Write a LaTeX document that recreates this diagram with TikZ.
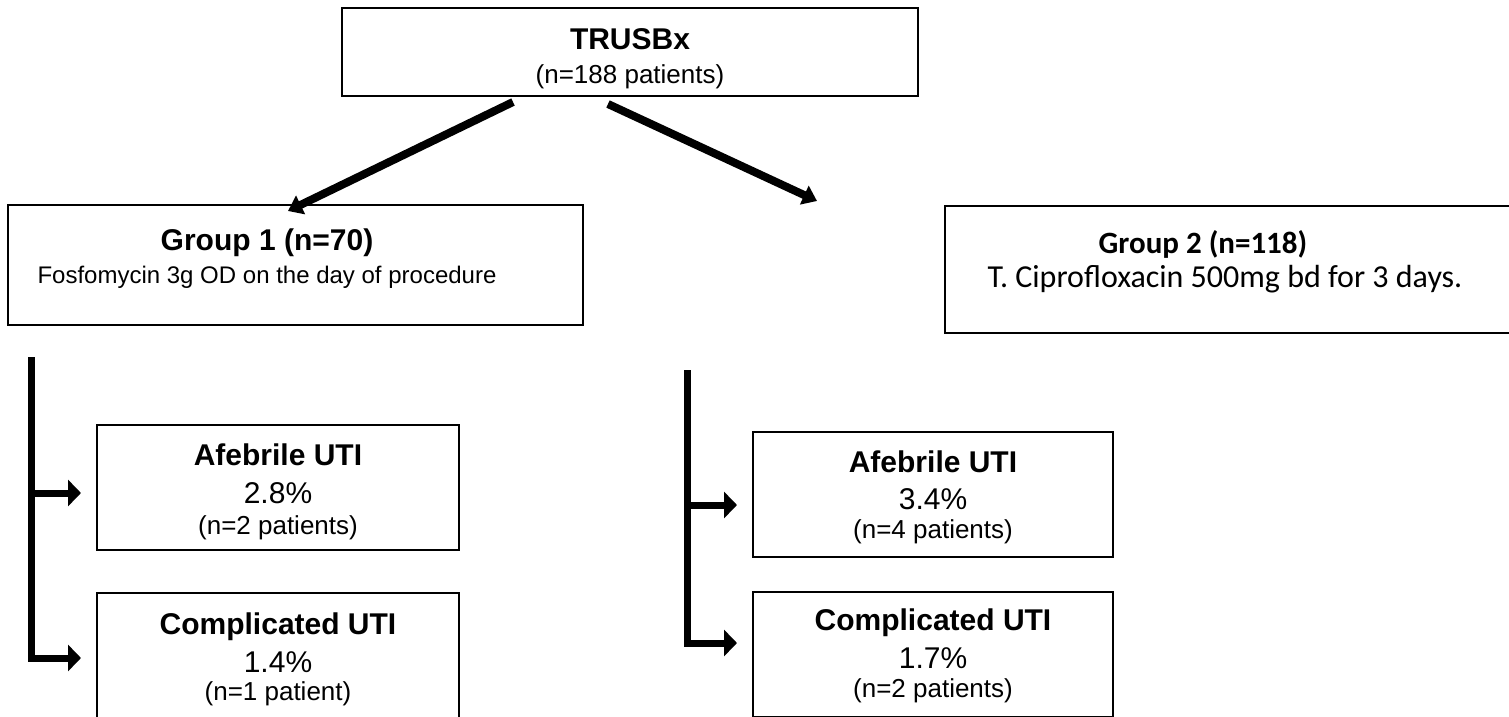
\documentclass[tikz,border=0pt]{standalone}
\usepackage{fontspec}
\setmainfont{Liberation Sans}
\newfontfamily\calfont{Carlito}
\usetikzlibrary{arrows.meta,calc}
\begin{document}
\begin{tikzpicture}[x=1pt,y=-1pt,
  box/.style={draw,line width=2pt,inner sep=0pt},
  ttl/.style={font=\bfseries\fontsize{30}{34}\selectfont,inner sep=0pt,anchor=base},
  sub/.style={font=\fontsize{26}{30}\selectfont,inner sep=0pt,anchor=base},
  pct/.style={font=\fontsize{30}{34}\selectfont,inner sep=0pt,anchor=base},
  diag/.style={line width=8pt,-{Triangle[length=14pt,width=20pt]}},
  brk/.style={line width=7pt,-{Triangle[length=13pt,width=26pt]}}]
\useasboundingbox[fill=white] (0,0) rectangle (1509,717);
% boxes
\node[box,minimum width=576pt,minimum height=88pt] (trus) at (630,52) {};
\node[box,minimum width=575pt,minimum height=120pt] (g1) at (295.5,265) {};
\node[box,minimum width=580pt,minimum height=127pt] (g2) at (1235,269.5) {};
\node[box,minimum width=362pt,minimum height=125pt] (a1) at (278,487.5) {};
\node[box,minimum width=362pt,minimum height=125pt] (c1) at (278,655.5) {};
\node[box,minimum width=360pt,minimum height=125pt] (a2) at (933,494.5) {};
\node[box,minimum width=360pt,minimum height=125pt] (c2) at (933,654.5) {};
% texts
\node[ttl] (trust) at (630,50) {TRUSBx};
\node[sub] (truss) at (630,83) {(n=188 patients)};
\node[ttl] (g1t) at (267,250) {Group 1 (n=70)};
\node[sub,font=\fontsize{24}{28}\selectfont] (g1s) at (267,283) {Fosfomycin 3g OD on the day of procedure};
\node[ttl,font=\calfont\bfseries\fontsize{31}{35}\selectfont] (g2t) at (1203,253) {Group 2 (n=118)};
\node[sub,font=\calfont\fontsize{32}{36}\selectfont] (g2s) at (1225,287) {T. Ciprofloxacin 500mg bd for 3 days.};
\node[ttl] (a1t) at (278,465) {Afebrile UTI};
\node[pct] (a1p) at (278,503) {2.8\%};
\node[sub] (a1n) at (278,534) {(n=2 patients)};
\node[ttl] (c1t) at (278,634) {Complicated UTI};
\node[pct] (c1p) at (278,672) {1.4\%};
\node[sub] (c1n) at (278,700) {(n=1 patient)};
\node[ttl] (a2t) at (933,472) {Afebrile UTI};
\node[pct] (a2p) at (933,509) {3.4\%};
\node[sub] (a2n) at (933,538) {(n=4 patients)};
\node[ttl] (c2t) at (933,630) {Complicated UTI};
\node[pct] (c2p) at (933,668) {1.7\%};
\node[sub] (c2n) at (933,697) {(n=2 patients)};
% diagonal arrows
\coordinate (d1s) at (513,102);
\coordinate (d1e) at (288,211);
\coordinate (d2s) at (608,104);
\coordinate (d2e) at (817,201);
\draw[diag] (d1s) -- (d1e);
\draw[diag] (d2s) -- (d2e);
% brackets
\coordinate (l1) at (31,357);
\coordinate (l2) at (687,370);
\draw[brk,shorten >=15pt] (l1) |- ([yshift=-5.5pt]a1.west);
\draw[brk,shorten >=15pt] (l1) |- ([yshift=-2.5pt]c1.west);
\draw[brk,shorten >=15pt] (l2) |- ([yshift=-10.5pt]a2.west);
\draw[brk,shorten >=15pt] (l2) |- ([yshift=11.5pt]c2.west);
\end{tikzpicture}
\end{document}
